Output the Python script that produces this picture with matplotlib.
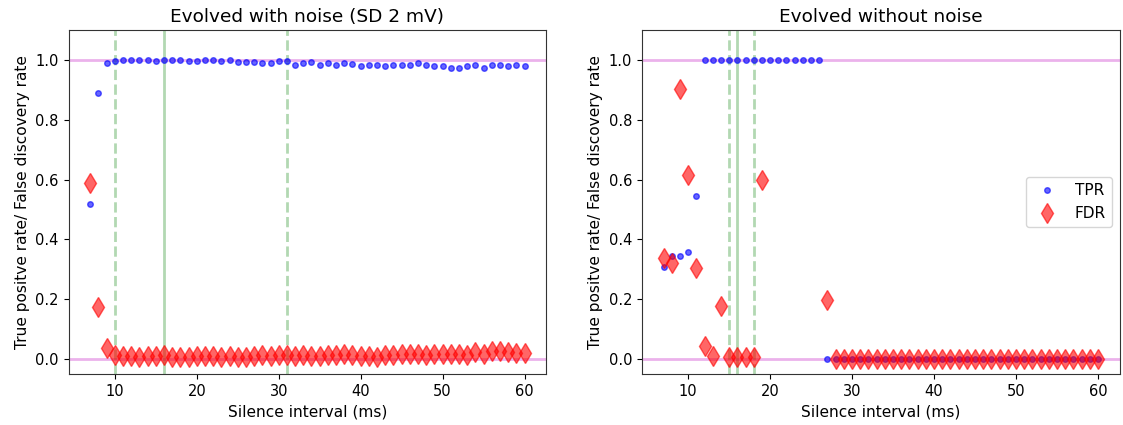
import numpy as np
import matplotlib
matplotlib.use("Agg")
import matplotlib.pyplot as plt

x = np.arange(7, 61)

tpr_noise = [0.52, 0.89, 0.99, 0.998, 1.0, 1.0, 1.0, 1.0, 0.998, 1.0, 1.0, 1.0,
             0.998, 0.997, 1.0, 0.999, 0.997, 0.999, 0.992, 0.992, 0.993, 0.991,
             0.989, 0.997, 0.997, 0.985, 0.989, 0.993, 0.982, 0.991, 0.985, 0.99,
             0.988, 0.981, 0.985, 0.982, 0.981, 0.983, 0.985, 0.984, 0.989, 0.983,
             0.979, 0.981, 0.975, 0.975, 0.979, 0.984, 0.975, 0.982, 0.982, 0.981,
             0.984, 0.98]
fdr_noise = [0.589, 0.173, 0.038, 0.013, 0.011, 0.011, 0.008, 0.011, 0.011, 0.015,
             0.008, 0.008, 0.008, 0.011, 0.011, 0.011, 0.008, 0.011, 0.008, 0.008,
             0.011, 0.012, 0.011, 0.015, 0.015, 0.011, 0.013, 0.011, 0.011, 0.012,
             0.013, 0.018, 0.013, 0.011, 0.011, 0.008, 0.013, 0.013, 0.016, 0.017,
             0.017, 0.013, 0.017, 0.017, 0.016, 0.016, 0.015, 0.022, 0.017, 0.026,
             0.028, 0.022, 0.019, 0.019]

tpr_clean = [0.309, 0.345, 0.345, 0.357, 0.544] + [1.0] * 15 + [0.0] * 34
fdr_clean = [0.337, 0.321, 0.902, 0.617, 0.303, 0.045, 0.010, 0.177, 0.007, 0.007,
             0.007, 0.007, 0.600] + [np.nan] * 7 + [0.199] + [0.0] * 33

titles = ["Evolved with noise (SD 2 mV)", "Evolved without noise"]
vlines_dashed = [[10, 31], [15, 18]]
vlines_solid = [[16], [16]]

fig, axes = plt.subplots(1, 2, figsize=(11.23, 4.25), dpi=100)
fig.subplots_adjust(left=0.061, right=0.997, bottom=0.12, top=0.929, wspace=0.2)

data = [(tpr_noise, fdr_noise), (tpr_clean, fdr_clean)]
for i, ax in enumerate(axes):
    tpr, fdr = data[i]
    ax.axhline(0, color='m', alpha=0.3, lw=2)
    ax.axhline(1, color='m', alpha=0.3, lw=2)
    for v in vlines_dashed[i]:
        ax.axvline(v, color='g', alpha=0.3, lw=2, ls='--')
    for v in vlines_solid[i]:
        ax.axvline(v, color='g', alpha=0.3, lw=2)
    ax.plot(x, tpr, 'o', color='b', alpha=0.6, ms=4, label='TPR')
    ax.plot(x, fdr, 'd', color='r', alpha=0.6, ms=10, label='FDR')
    ax.set_ylim(-0.05, 1.1)
    ax.set_xlim(4.35, 62.65)
    ax.set_xticks([10, 20, 30, 40, 50, 60])
    ax.set_yticks([0.0, 0.2, 0.4, 0.6, 0.8, 1.0])
    ax.set_title(titles[i], fontsize=13.3)
    ax.set_xlabel("Silence interval (ms)", fontsize=11.1)
    ax.set_ylabel("True positve rate/ False discovery rate", fontsize=11.1)
    ax.tick_params(labelsize=10.5)
    for s in ax.spines.values():
        s.set_color('#333333')

axes[1].legend(loc='center right', fontsize=11)
fig.savefig("out.png", dpi=100)
